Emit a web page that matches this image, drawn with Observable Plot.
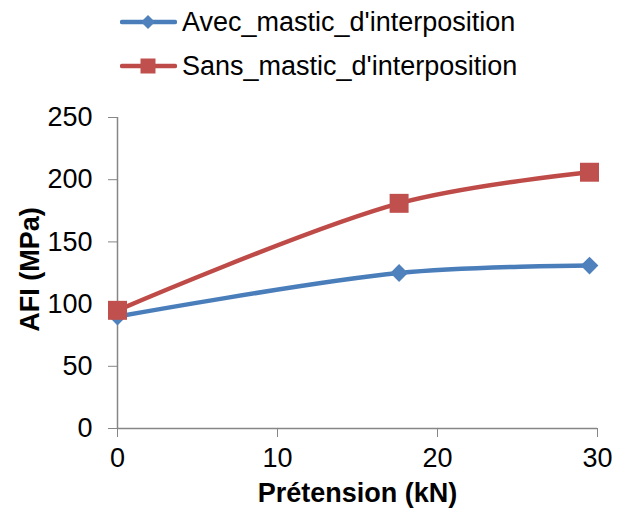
<!DOCTYPE html>
<html>
<head>
<meta charset="utf-8">
<script src="https://cdn.jsdelivr.net/npm/d3@7"></script>
<script src="https://cdn.jsdelivr.net/npm/@observablehq/plot@0.6"></script>
<style>
  html, body { margin: 0; padding: 0; background: #fff; }
  body { width: 627px; height: 513px; overflow: hidden; font-family: "Liberation Sans", Arial, sans-serif; }
  #legend { position: relative; height: 90px; }
  .item { position: absolute; left: 120px; height: 28px; display: flex; align-items: center; font-size: 27px; color: #000; white-space: nowrap; }
  .item svg { display: block; margin-right: 5px; }
</style>
</head>
<body>
<div id="legend"></div>
<div id="chart"></div>
<script>
const seriesNames = ["Avec_mastic_d'interposition", "Sans_mastic_d'interposition"];
const pretension = [0, 17.6, 29.5];
const avecValues = [90, 125, 131];
const sansValues = [95, 181, 206];
const xTicks = [0, 10, 20, 30];
const yTicks = [0, 50, 100, 150, 200, 250];
const lineColors = ["#4A7EBB", "#BE4B48"];
const markerColors = ["#4F81BD", "#C0504D"];

const data = [
  ...pretension.map((x, i) => ({x, y: avecValues[i], s: seriesNames[0]})),
  ...pretension.map((x, i) => ({x, y: sansValues[i], s: seriesNames[1]}))
];
const avecData = data.filter(d => d.s === seriesNames[0]);
const sansData = data.filter(d => d.s === seriesNames[1]);

// Legend
const legend = document.getElementById("legend");
seriesNames.forEach((name, i) => {
  const div = document.createElement("div");
  div.className = "item";
  div.style.top = (i === 0 ? 22 : 66) - 14 + "px";
  const marker = i === 0
    ? `<path d="M28,7 L35,14 L28,21 L21,14 Z" fill="${markerColors[0]}"/>`
    : `<rect x="20.5" y="6.5" width="15" height="15" fill="${markerColors[1]}"/>`;
  div.innerHTML = `<svg width="57" height="28"><line x1="2" x2="55" y1="14" y2="14" stroke="${lineColors[i]}" stroke-width="4.5" stroke-linecap="round"/>${marker}</svg><span>${name}</span>`;
  legend.appendChild(div);
});

const plot = Plot.plot({
  width: 627,
  height: 423,
  marginTop: 27,
  marginBottom: 85,
  marginLeft: 117,
  marginRight: 30,
  style: {fontFamily: "Liberation Sans, Arial, sans-serif", fontSize: "27px", color: "#000", background: "#fff"},
  x: {domain: [0, 30]},
  y: {domain: [0, 250]},
  marks: [
    Plot.ruleX([0], {stroke: "#868686", strokeWidth: 1.5}),
    Plot.ruleY([0], {stroke: "#868686", strokeWidth: 1.5}),
    Plot.axisY({ticks: yTicks, tickSize: 9, tickPadding: 16, stroke: "#868686", fill: "#000", fontSize: 27, label: null}),
    Plot.axisX({ticks: xTicks, tickSize: 9, tickPadding: 10, stroke: "#868686", fill: "#000", fontSize: 27, label: null}),
    Plot.line(avecData, {x: "x", y: "y", stroke: lineColors[0], strokeWidth: 4.5, curve: "catmull-rom"}),
    Plot.dot(avecData, {x: "x", y: "y", symbol: "diamond2", r: 8, fill: markerColors[0], stroke: "none"}),
    Plot.line(sansData, {x: "x", y: "y", stroke: lineColors[1], strokeWidth: 4.5, curve: "catmull-rom"}),
    Plot.dot(sansData, {x: "x", y: "y", symbol: "square", r: 10.7, fill: markerColors[1], stroke: "none"}),
    Plot.text(["AFI (MPa)"], {frameAnchor: "left", textAnchor: "middle", lineAnchor: "middle", rotate: -90, dx: -87, dy: -3.5, fontWeight: "bold", fontSize: 27, fill: "#000"}),
    Plot.text(["Prétension (kN)"], {frameAnchor: "bottom", textAnchor: "middle", lineAnchor: "middle", dy: 65, fontWeight: "bold", fontSize: 27, fill: "#000"})
  ]
});
document.getElementById("chart").appendChild(plot);
</script>
</body>
</html>
